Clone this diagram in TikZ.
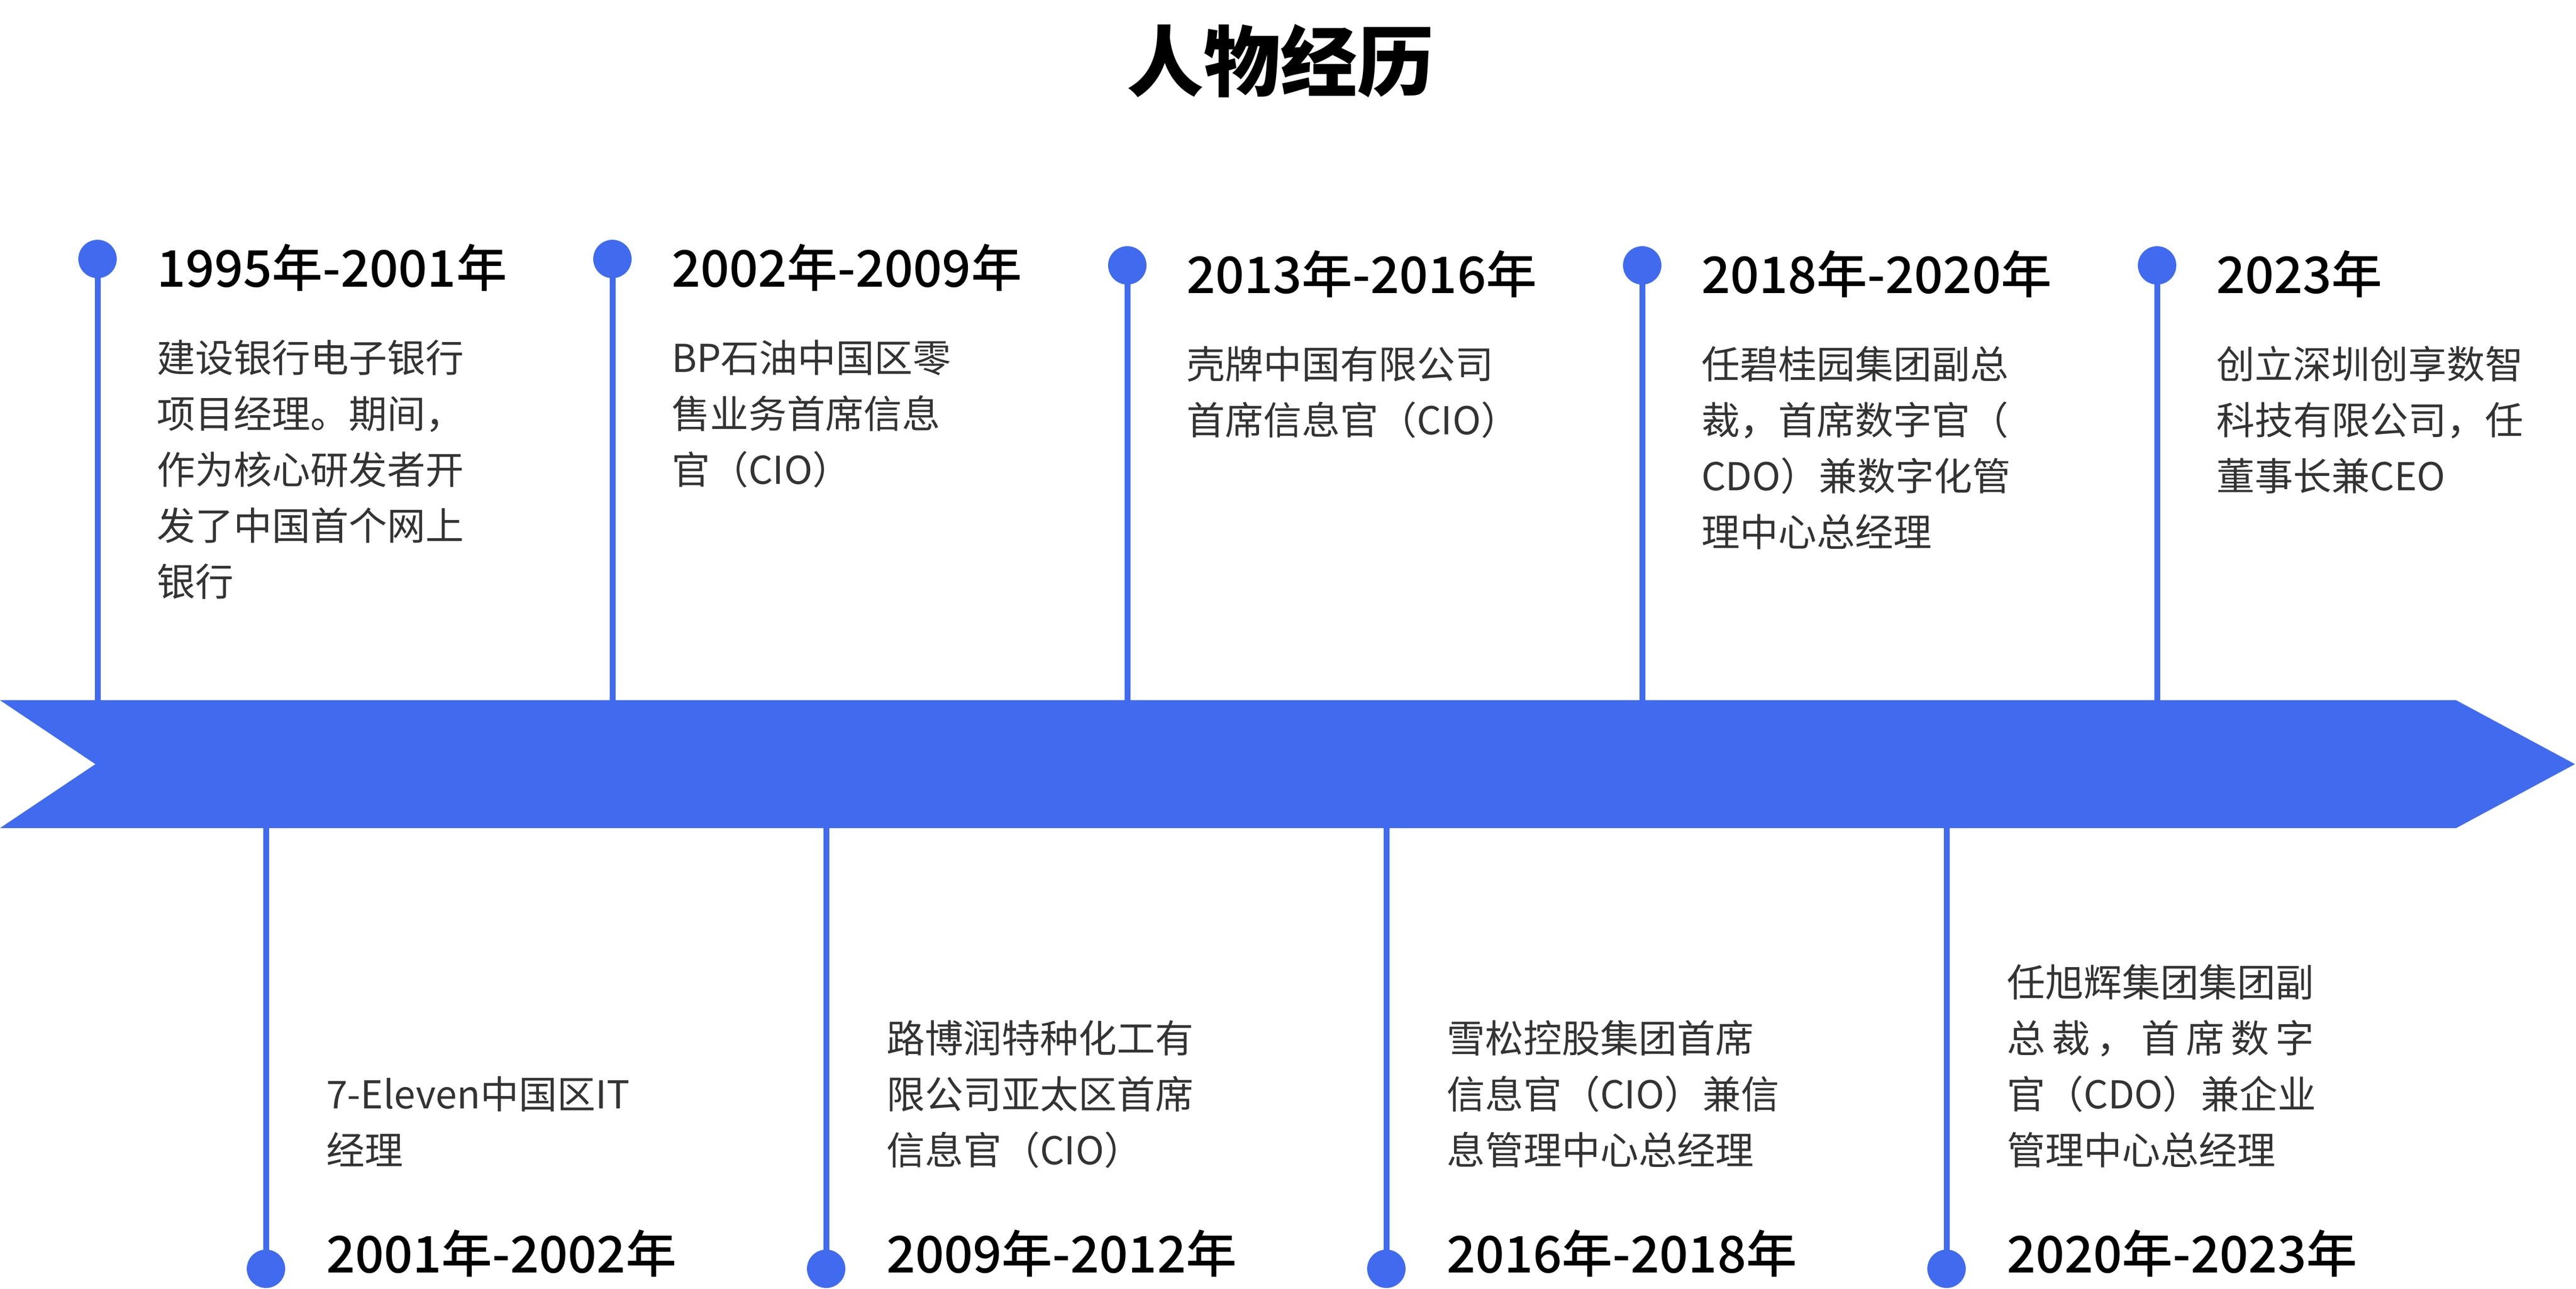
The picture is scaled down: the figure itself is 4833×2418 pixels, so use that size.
\documentclass[tikz,border=0pt]{standalone}
\usepackage{fontspec}
\setmainfont{Noto Sans CJK SC}
\newfontface\yearface{Noto Sans CJK SC Medium}
\definecolor{tlblue}{RGB}{64,107,239}
\definecolor{bodygray}{RGB}{51,51,51}
\tikzset{
  yearlbl/.style={anchor=base west, inner sep=0pt, text=black,
    font=\yearface\fontsize{19.0pt}{23pt}\selectfont},
  bodylbl/.style={anchor=base west, inner sep=0pt, text=bodygray,
    font=\fontsize{14.4pt}{18pt}\selectfont},
  titlelbl/.style={anchor=base, inner sep=0pt, text=black,
    font=\fontsize{28.8pt}{34pt}\selectfont\bfseries},
  dotnode/.style={circle, fill=tlblue, minimum size=14.4pt, inner sep=0pt},
  stem/.style={draw=tlblue, line width=2.2pt}
}
\begin{document}
\begin{tikzpicture}[x=0.2pt,y=-0.2pt]
\useasboundingbox (0,0) rectangle (4833,2418);
\node[titlelbl] (title) at (2402,169) {人物经历};

% band edge coordinates
\foreach \x [count=\i] in {183,1149,2115,3081,4047} \coordinate (s\i) at (\x,1314);
\foreach \x [count=\i from 6] in {499,1550,2601,3652} \coordinate (s\i) at (\x,1554);

% dots
\node[dotnode] (d1) at (183,486) {};
\node[dotnode] (d2) at (1149,486) {};
\node[dotnode] (d3) at (2115,498) {};
\node[dotnode] (d4) at (3081,498) {};
\node[dotnode] (d5) at (4047,498) {};
\node[dotnode] (d6) at (499,2381) {};
\node[dotnode] (d7) at (1550,2381) {};
\node[dotnode] (d8) at (2601,2381) {};
\node[dotnode] (d9) at (3652,2381) {};

\foreach \i in {1,...,9} \draw[stem] (d\i.center) -- (s\i);

% band
\fill[tlblue] (0,1314) -- (4608,1314) -- (4831,1434) -- (4608,1554) -- (0,1554) -- (179,1434) -- cycle;

% top items
\node[yearlbl] (y1) at (293,538) {1995年-2001年};
\foreach \t [count=\i] in {建设银行电子银行,项目经理。期间，,作为核心研发者开,发了中国首个网上,银行}
  \node[bodylbl] (b1-\i) at (293,{698+105*(\i-1)}) {\t};

\node[yearlbl] (y2) at (1259,538) {2002年-2009年};
\foreach \t [count=\i] in {BP石油中国区零,售业务首席信息,官（CIO）}
  \node[bodylbl] (b2-\i) at (1259,{698+105*(\i-1)}) {\t};

\node[yearlbl] (y3) at (2225,550) {2013年-2016年};
\foreach \t [count=\i] in {壳牌中国有限公司,首席信息官（CIO）}
  \node[bodylbl] (b3-\i) at (2225,{710+105*(\i-1)}) {\t};

\node[yearlbl] (y4) at (3191,550) {2018年-2020年};
\foreach \t [count=\i] in {任碧桂园集团副总,裁，首席数字官（,CDO）兼数字化管,理中心总经理}
  \node[bodylbl] (b4-\i) at (3191,{710+105*(\i-1)}) {\t};

\node[yearlbl] (y5) at (4157,550) {2023年};
\foreach \t [count=\i] in {创立深圳创享数智,科技有限公司，任,董事长兼CEO}
  \node[bodylbl] (b5-\i) at (4157,{710+105*(\i-1)}) {\t};

% bottom items
\node[yearlbl] (y6) at (611,2388) {2001年-2002年};
\foreach \t [count=\i] in {7-Eleven中国区IT,经理}
  \node[bodylbl] (b6-\i) at (611,{2080+105*(\i-1)}) {\t};

\node[yearlbl] (y7) at (1662,2388) {2009年-2012年};
\foreach \t [count=\i] in {路博润特种化工有,限公司亚太区首席,信息官（CIO）}
  \node[bodylbl] (b7-\i) at (1662,{1975+105*(\i-1)}) {\t};

\node[yearlbl] (y8) at (2713,2388) {2016年-2018年};
\foreach \t [count=\i] in {雪松控股集团首席,信息官（CIO）兼信,息管理中心总经理}
  \node[bodylbl] (b8-\i) at (2713,{1975+105*(\i-1)}) {\t};

\node[yearlbl] (y9) at (3764,2388) {2020年-2023年};
\node[bodylbl] (b9-1) at (3764,1870) {任旭辉集团集团副};
\node[bodylbl] (b9-2) at (3764,1975) {\makebox[8em][l]{总\hfill 裁\hfill ，\hfill 首\hfill 席\hfill 数\hfill 字}};
\node[bodylbl] (b9-3) at (3764,2080) {官（CDO）兼企业};
\node[bodylbl] (b9-4) at (3764,2185) {管理中心总经理};
\end{tikzpicture}
\end{document}
